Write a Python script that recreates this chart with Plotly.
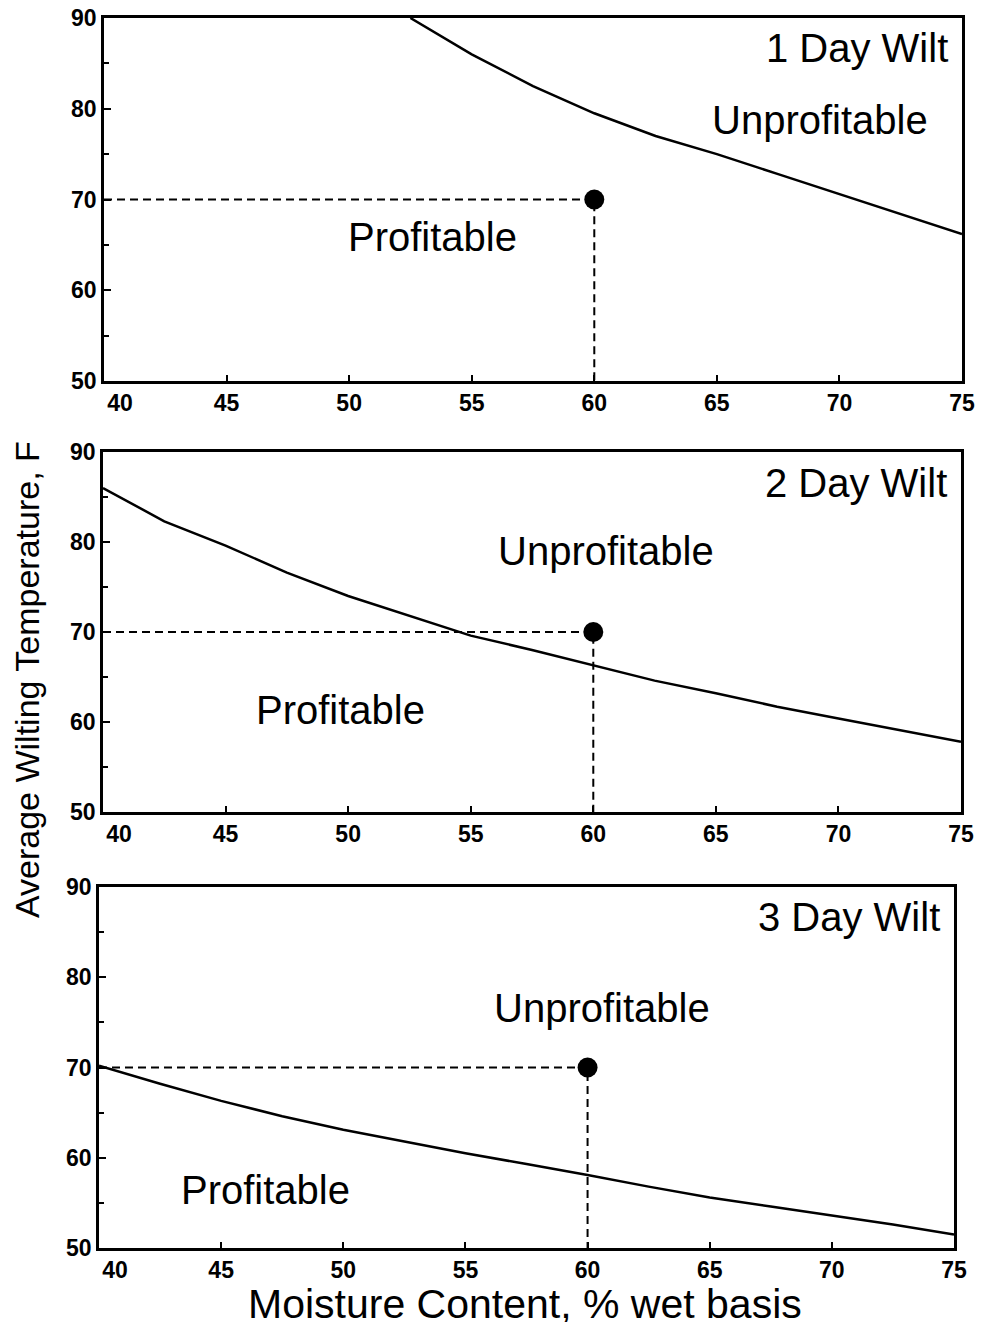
import plotly.graph_objects as go

# ---- data ----
x_ticks = [40, 45, 50, 55, 60, 65, 70, 75]
y_ticks = [50, 60, 70, 80, 90]

wilt1_x = [52.5, 55, 57.5, 60, 62.5, 65, 67.5, 70, 72.5, 75]
wilt1_y = [90.0, 86.0, 82.5, 79.5, 77.0, 75.0, 72.8, 70.6, 68.4, 66.2]

wilt2_x = [40, 42.5, 45, 47.5, 50, 52.5, 55, 57.5, 60, 62.5, 65, 67.5, 70, 72.5, 75]
wilt2_y = [86.0, 82.3, 79.6, 76.6, 74.0, 71.8, 69.6, 68.0, 66.3, 64.6, 63.2, 61.7, 60.4, 59.1, 57.8]

wilt3_x = [40, 42.5, 45, 47.5, 50, 52.5, 55, 57.5, 60, 62.5, 65, 67.5, 70, 72.5, 75]
wilt3_y = [70.2, 68.2, 66.3, 64.6, 63.1, 61.8, 60.5, 59.3, 58.1, 56.8, 55.6, 54.6, 53.6, 52.6, 51.5]

point_x = 60
point_y = 70

panel_titles = ["1 Day Wilt", "2 Day Wilt", "3 Day Wilt"]
title_y = [86.7, 86.6, 86.7]
unprof_pos = [(69.2, 78.8), (60.5, 79.0), (60.6, 76.6)]
prof_pos = [(53.4, 65.9), (49.7, 61.3), (46.8, 56.4)]

curves = [(wilt1_x, wilt1_y), (wilt2_x, wilt2_y), (wilt3_x, wilt3_y)]

W, H = 981, 1326
# plot-area pixel boxes (left, right, top, bottom)
boxes = [(104, 962, 18, 381), (103, 961, 452, 812), (99, 954, 887, 1248)]

FONT = "Liberation Sans, Arial, Helvetica, sans-serif"

fig = go.Figure()
layout = dict(
    width=W, height=H, autosize=False,
    margin=dict(l=0, r=0, t=0, b=0, autoexpand=False),
    paper_bgcolor="white", plot_bgcolor="white",
    showlegend=False,
    font=dict(family=FONT, color="black"),
)

annotations = []
for i, ((cx, cy), (l, r, t, b)) in enumerate(zip(curves, boxes)):
    n = "" if i == 0 else str(i + 1)
    xa, ya = "x" + n, "y" + n
    fig.add_trace(go.Scatter(x=cx, y=cy, mode="lines", xaxis=xa, yaxis=ya,
                             line=dict(color="black", width=2.5), hoverinfo="skip"))
    fig.add_trace(go.Scatter(x=[40, point_x, point_x], y=[point_y, point_y, 50],
                             mode="lines", xaxis=xa, yaxis=ya,
                             line=dict(color="black", width=2, dash="8px,5px"), hoverinfo="skip"))
    fig.add_trace(go.Scatter(x=[point_x], y=[point_y], mode="markers", xaxis=xa, yaxis=ya,
                             marker=dict(color="black", size=20), hoverinfo="skip", cliponaxis=False))
    tick_text = [str(v) for v in x_ticks]
    tick_text[0] = "\u00a0\u00a0\u00a0\u00a0\u00a040"
    layout["xaxis" + n] = dict(
        domain=[l / W, r / W], anchor=ya, range=[40, 75], automargin=False,
        tickvals=x_ticks, ticktext=tick_text,
        ticks="inside", ticklen=6, tickwidth=2, tickcolor="black",
        showline=True, mirror=True, linecolor="black", linewidth=2.5,
        showgrid=False, zeroline=False,
        tickfont=dict(family=FONT, size=23, color="black", weight="bold"),
    )
    layout["yaxis" + n] = dict(
        domain=[1 - b / H, 1 - t / H], anchor=xa, range=[50, 90], automargin=False,
        tickvals=y_ticks, ticks="inside", ticklen=7, tickwidth=2, tickcolor="black",
        minor=dict(dtick=5, tick0=50, ticks="inside", ticklen=5, tickwidth=1.5, tickcolor="black"),
        showline=True, mirror=True, linecolor="black", linewidth=2.5,
        showgrid=False, zeroline=False,
        tickfont=dict(family=FONT, size=23, color="black", weight="bold"),
    )
    annotations.append(dict(text=panel_titles[i], xref=xa, yref=ya, x=74.5, y=title_y[i],
                            xanchor="right", yanchor="middle", showarrow=False,
                            font=dict(family=FONT, size=40, color="black")))
    annotations.append(dict(text="Unprofitable", xref=xa, yref=ya, x=unprof_pos[i][0], y=unprof_pos[i][1],
                            xanchor="center", yanchor="middle", showarrow=False,
                            font=dict(family=FONT, size=40, color="black")))
    annotations.append(dict(text="Profitable", xref=xa, yref=ya, x=prof_pos[i][0], y=prof_pos[i][1],
                            xanchor="center", yanchor="middle", showarrow=False,
                            font=dict(family=FONT, size=40, color="black")))

annotations.append(dict(text="Average Wilting Temperature, F", xref="paper", yref="paper",
                        x=27 / W, y=1 - 680 / H, textangle=-90, showarrow=False,
                        xanchor="center", yanchor="middle",
                        font=dict(family=FONT, size=34, color="black")))
annotations.append(dict(text="Moisture Content, % wet basis", xref="paper", yref="paper",
                        x=525 / W, y=1 - 1304 / H, showarrow=False,
                        xanchor="center", yanchor="middle", height=36, borderpad=0,
                        font=dict(family=FONT, size=41, color="black")))
layout["annotations"] = annotations
fig.update_layout(**layout)
fig.write_html("out.html", config={"displayModeBar": False},
               post_script="document.body.style.margin='0';document.body.style.overflow='hidden';")
